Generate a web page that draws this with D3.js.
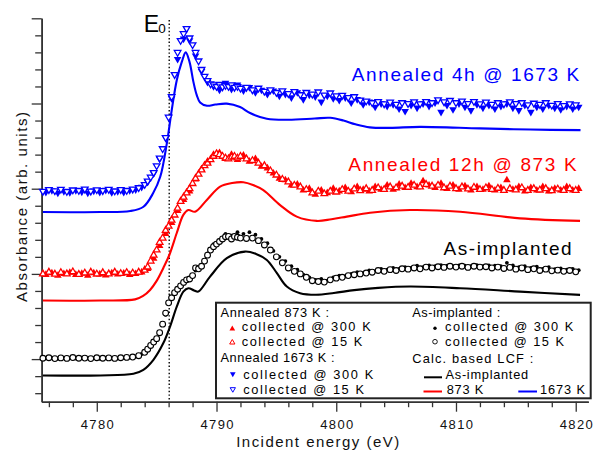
<!DOCTYPE html>
<html><head><meta charset="utf-8">
<script src="https://cdn.jsdelivr.net/npm/d3@7"></script>
<style>
html,body{margin:0;padding:0;background:#fff;}
svg{display:block;font-family:"Liberation Sans",Arial,Helvetica,sans-serif;}
</style></head><body>
<svg id="chart" width="594" height="450"></svg>
<script>
// ---------------- DATA ----------------
const xMajorTicks = [4780, 4790, 4800, 4810, 4820];
const xMinorTicks = [4776, 4778, 4782, 4784, 4786, 4788, 4792, 4794, 4796, 4798, 4802, 4804, 4806, 4808, 4812, 4814, 4816, 4818];
const yMajorTicks = [0, 0.5, 1.0, 1.5, 2.0];
const yMinorTicks = [-0.2, -0.1, 0.1, 0.2, 0.3, 0.4, 0.6, 0.7, 0.8, 0.9, 1.1, 1.2, 1.3, 1.4, 1.6, 1.7, 1.8, 1.9];
const E0 = 4786.05;

// energy grid of the 15 K scans (eV)
const energy15 = [
  4775.5,4776,4776.5,4777,4777.5,4778,4778.5,4779,4779.5,4780,4780.5,4781,4781.5,4782,4782.5,4783,
  4783.5,4784,
  4784.25,4784.5,4784.75,4785,4785.25,4785.5,4785.75,4786,
  4786.25,4786.5,4786.75,4787,4787.25,4787.5,4787.75,4788,
  4788.25,4788.5,4788.75,4789,4789.25,4789.5,4789.75,4790,
  4790.25,4790.5,4790.75,4791,4791.25,4791.5,4791.75,4792,
  4792.5,4793,4793.5,4794,4794.5,4795,4795.5,4796,
  4796.5,4797,4797.5,4798,4798.5,4799,4799.5,4800,
  4800.5,4801,4801.5,4802,4802.5,4803,4803.5,4804,
  4804.5,4805,4805.5,4806,4806.5,4807,4807.5,4808,
  4808.5,4809,4809.5,4810,4810.5,4811,4811.5,4812,
  4812.5,4813,4813.5,4814,4814.5,4815,4815.5,4816,
  4816.5,4817,4817.5,4818,4818.5,4819,4819.5,4820
];
// energy grid of the 300 K scans (eV)
const energy300 = [
  4775.75,4776.25,4776.75,4777.25,4777.75,4778.25,4778.75,4779.25,4779.75,4780.25,4780.75,4781.25,4781.75,4782.25,4782.75,4783.25,
  4783.75,4784.25,4784.75,4785.25,4785.75,4786.25,4786.75,4787.25,
  4787.75,4788.25,4788.75,4789.25,4789.75,4790.25,4790.75,4791.25,
  4791.75,4792.25,4792.75,4793.25,4793.75,4794.25,4794.75,4795.25,
  4795.75,4796.25,4796.75,4797.25,4797.75,4798.25,4798.75,4799.25,
  4799.75,4800.25,4800.75,4801.25,4801.75,4802.25,4802.75,4803.25,
  4803.75,4804.25,4804.75,4805.25,4805.75,4806.25,4806.75,4807.25,
  4807.75,4808.25,4808.75,4809.25,4809.75,4810.25,4810.75,4811.25,
  4811.75,4812.25,4812.75,4813.25,4813.75,4814.25,4814.75,4815.25,
  4815.75,4816.25,4816.75,4817.25,4817.75,4818.25,4818.75,4819.25,
  4819.75,4820.25
];

// Annealed 4h @ 1673 K (offset spectra)
const blue15 = [
  0.985,0.995,0.988,0.997,0.984,0.993,0.990,0.998,0.986,0.994,0.989,0.996,0.987,0.995,0.990,0.998,
  1.006,1.025,
  1.045,1.068,1.095,1.135,1.180,1.235,1.300,1.420,
  1.540,1.670,1.800,1.870,1.910,1.940,1.885,1.845,
  1.800,1.750,1.700,1.660,1.635,1.615,1.610,1.600,
  1.612,1.598,1.606,1.600,1.610,1.595,1.600,1.590,
  1.595,1.580,1.590,1.572,1.580,1.565,1.575,1.558,
  1.570,1.552,1.565,1.555,1.568,1.550,1.562,1.545,
  1.548,1.535,1.540,1.520,1.515,1.505,1.512,1.498,
  1.508,1.495,1.505,1.500,1.510,1.498,1.512,1.505,
  1.522,1.510,1.518,1.505,1.515,1.500,1.512,1.498,
  1.508,1.495,1.505,1.498,1.510,1.500,1.505,1.492,
  1.502,1.495,1.505,1.490,1.500,1.488,1.498,1.492
];
const blue300 = [
  0.980,0.990,0.975,0.985,0.978,0.990,0.982,0.975,0.988,0.980,0.992,0.978,0.985,0.980,0.990,0.995,
  1.010,1.040,1.090,1.175,1.300,1.530,1.760,1.880,
  1.870,1.780,1.690,1.625,1.600,1.580,1.620,1.585,
  1.610,1.575,1.595,1.565,1.580,1.555,1.575,1.545,
  1.555,1.535,1.565,1.525,1.550,1.540,1.510,1.545,
  1.530,1.520,1.535,1.505,1.525,1.495,1.510,1.480,
  1.500,1.485,1.495,1.470,1.455,1.490,1.475,1.500,
  1.485,1.505,1.450,1.490,1.465,1.500,1.480,1.460,
  1.495,1.475,1.490,1.470,1.485,1.500,1.475,1.460,
  1.490,1.450,1.480,1.470,1.490,1.475,1.465,1.485,
  1.470,1.480
];
// Annealed 12h @ 873 K
const red15 = [
  0.500,0.510,0.498,0.508,0.500,0.512,0.497,0.505,0.510,0.499,0.507,0.500,0.510,0.502,0.508,0.505,
  0.510,0.522,
  0.540,0.575,0.610,0.640,0.685,0.710,0.755,0.780,
  0.815,0.845,0.885,0.925,0.950,0.975,1.000,1.030,
  1.060,1.085,1.110,1.135,1.150,1.170,1.190,1.205,
  1.200,1.190,1.180,1.175,1.185,1.190,1.180,1.190,
  1.175,1.165,1.150,1.135,1.105,1.080,1.055,1.040,
  1.020,1.010,0.995,0.975,0.985,0.970,0.985,0.980,
  0.995,0.985,0.998,0.988,1.000,0.990,1.005,0.995,
  1.010,1.005,1.015,1.008,1.020,1.010,1.025,1.015,
  1.020,1.005,1.015,1.000,1.010,0.998,1.008,0.995,
  1.005,0.995,1.002,0.990,1.000,0.993,1.005,0.990,
  1.000,0.992,1.000,0.988,0.998,0.990,1.000,0.990
];
const red300 = [
  0.495,0.505,0.490,0.500,0.508,0.495,0.502,0.490,0.505,0.498,0.492,0.505,0.497,0.503,0.495,0.500,
  0.510,0.530,0.590,0.665,0.735,0.800,0.870,0.935,
  0.985,1.055,1.115,1.160,1.200,1.210,1.175,1.200,
  1.170,1.195,1.160,1.175,1.130,1.120,1.090,1.060,
  1.050,1.020,1.025,0.990,1.000,0.965,0.990,0.975,
  1.000,0.985,1.005,0.980,1.010,0.995,0.985,1.010,
  0.995,1.020,0.995,1.025,1.005,1.030,1.010,1.045,
  1.020,1.005,1.030,1.000,1.020,0.995,1.015,0.990,
  1.010,0.995,1.015,0.990,1.005,1.050,0.995,1.010,
  0.985,1.005,0.990,1.010,0.985,1.000,0.990,1.010,
  0.990,1.000
];
// As-implanted
const black15 = [
  0.005,0.008,0.003,0.007,0.004,0.009,0.005,0.006,0.003,0.008,0.005,0.007,0.004,0.008,0.010,0.012,
  0.020,0.040,
  0.058,0.080,0.100,0.120,0.155,0.205,0.270,0.330,
  0.360,0.390,0.410,0.430,0.450,0.465,0.470,0.490,
  0.535,0.530,0.545,0.575,0.610,0.640,0.660,0.675,
  0.690,0.705,0.718,0.720,0.705,0.720,0.715,0.710,
  0.708,0.710,0.695,0.670,0.640,0.600,0.565,0.535,
  0.515,0.500,0.480,0.460,0.455,0.452,0.465,0.475,
  0.480,0.490,0.495,0.500,0.505,0.510,0.520,0.515,
  0.525,0.520,0.530,0.528,0.535,0.530,0.540,0.535,
  0.542,0.538,0.545,0.540,0.545,0.538,0.545,0.540,
  0.542,0.535,0.540,0.532,0.538,0.528,0.535,0.525,
  0.530,0.520,0.528,0.518,0.522,0.515,0.520,0.512
];
const black300 = [
  0.004,0.006,0.002,0.007,0.005,0.003,0.008,0.004,0.006,0.002,0.007,0.005,0.004,0.008,0.009,0.014,
  0.030,0.060,0.100,0.160,0.260,0.355,0.405,0.445,
  0.475,0.520,0.550,0.620,0.675,0.700,0.735,0.725,
  0.745,0.735,0.745,0.730,0.705,0.680,0.635,0.600,
  0.575,0.545,0.525,0.495,0.480,0.465,0.470,0.460,
  0.480,0.490,0.485,0.500,0.510,0.505,0.520,0.515,
  0.530,0.525,0.535,0.530,0.540,0.535,0.548,0.540,
  0.550,0.545,0.552,0.548,0.545,0.550,0.548,0.545,
  0.552,0.545,0.550,0.548,0.545,0.565,0.550,0.540,
  0.545,0.535,0.542,0.530,0.540,0.528,0.532,0.525,
  0.530,0.522
];

// Calculated spectra based on LCF  [energy, absorbance]
const lcfBlue = [[4775.5,0.863],[4780.3,0.863],[4782.8,0.869],[4783.9,0.894],[4784.7,0.973],[4785.3,1.070],[4785.85,1.266],[4786.26,1.461],[4786.68,1.637],[4787.1,1.744],[4787.43,1.800],[4787.75,1.743],[4788.07,1.627],[4788.35,1.549],[4788.63,1.506],[4789.2,1.487],[4789.9,1.494],[4790.86,1.499],[4791.97,1.479],[4792.8,1.444],[4794.2,1.411],[4796.0,1.405],[4798.2,1.412],[4799.5,1.416],[4800.6,1.400],[4801.6,1.378],[4802.8,1.360],[4804.5,1.357],[4807.0,1.363],[4812.0,1.354],[4816.2,1.347],[4820.4,1.344]];
const lcfRed = [[4775.5,0.3435],[4780.3,0.3435],[4783.2,0.3505],[4783.87,0.371],[4784.45,0.406],[4785.0,0.459],[4785.56,0.535],[4786.06,0.611],[4786.68,0.740],[4787.23,0.846],[4787.65,0.875],[4788.21,0.865],[4789.19,0.934],[4790.3,1.012],[4791.3,1.033],[4792.24,1.038],[4793.05,1.022],[4793.91,0.992],[4795.31,0.904],[4796.7,0.836],[4798.37,0.811],[4799.6,0.821],[4800.88,0.836],[4802.82,0.859],[4806.16,0.875],[4810.34,0.865],[4815.35,0.826],[4820.36,0.811]];
const lcfBlack = [[4775.5,-0.096],[4780.3,-0.096],[4783.06,-0.086],[4783.89,-0.063],[4784.73,-0.004],[4785.56,0.094],[4786.12,0.191],[4786.68,0.308],[4787.23,0.396],[4787.65,0.416],[4788.13,0.403],[4788.48,0.396],[4789.46,0.484],[4790.86,0.592],[4792.38,0.631],[4793.3,0.617],[4794.2,0.582],[4795.03,0.506],[4795.87,0.426],[4796.98,0.387],[4798.3,0.378],[4799.8,0.388],[4801.5,0.405],[4803.5,0.418],[4806.16,0.426],[4810.34,0.416],[4815.35,0.396],[4820.36,0.377]];

// ---------------- DRAWING ----------------
const BLUE = "#0000ff", RED = "#ff0000", BLACK = "#000000", AXIS = "#333333";
const svg = d3.select("#chart");
const x = d3.scaleLinear().domain([4775.4, 4821.05]).range([41.7, 588.3]);
const y = d3.scaleLinear().domain([-0.25, 2.0]).range([401.7, 18.3]);

function styleAxis(g) {
  g.select(".domain").attr("stroke", AXIS).attr("stroke-width", 1.6);
  g.selectAll(".tick line").attr("stroke", AXIS).attr("stroke-width", 1.3);
}
// x axis
const gxMinor = svg.append("g").attr("transform", "translate(0,401.7)")
  .call(d3.axisBottom(x).tickValues(xMinorTicks).tickSize(5.5).tickSizeOuter(0).tickFormat(""));
styleAxis(gxMinor);
const gx = svg.append("g").attr("transform", "translate(0,401.7)")
  .call(d3.axisBottom(x).tickValues(xMajorTicks).tickSize(10).tickSizeOuter(0).tickPadding(8.5).tickFormat(d3.format("d")));
styleAxis(gx);
gx.selectAll(".tick text").attr("font-size", 13).attr("fill", "#111")
  .attr("font-family", '"Liberation Sans",Arial,sans-serif')
  .attr("textLength", 33).attr("lengthAdjust", "spacing");
// y axis
const gyMinor = svg.append("g").attr("transform", "translate(41.7,0)")
  .call(d3.axisLeft(y).tickValues(yMinorTicks).tickSize(6.5).tickSizeOuter(0).tickFormat(""));
styleAxis(gyMinor);
const gy = svg.append("g").attr("transform", "translate(41.7,0)")
  .call(d3.axisLeft(y).tickValues(yMajorTicks).tickSize(10).tickSizeOuter(0).tickFormat(""));
styleAxis(gy);

// axis titles
svg.append("text").attr("x", 317.7).attr("y", 446.7).attr("text-anchor", "middle")
  .attr("font-size", 15).attr("fill", "#111").attr("textLength", 163).attr("lengthAdjust", "spacing")
  .text("Incident energy (eV)");
svg.append("text").attr("transform", "translate(26.7,207) rotate(-90)").attr("text-anchor", "middle")
  .attr("font-size", 15).attr("fill", "#111").attr("textLength", 190).attr("lengthAdjust", "spacing")
  .text("Absorbance (arb. units)");

// E0 marker
svg.append("line").attr("x1", x(E0)).attr("x2", x(E0)).attr("y1", 20).attr("y2", 401)
  .attr("stroke", "#000").attr("stroke-width", 1.4).attr("stroke-dasharray", "1.4,2.2");
svg.append("text").attr("x", 143.8).attr("y", 31.7).attr("font-size", 23).attr("fill", "#000").text("E");
svg.append("text").attr("x", 158.3).attr("y", 32.8).attr("font-size", 13.5).attr("fill", "#000").text("0");

// LCF lines
const line = d3.line().x(d => x(d[0])).y(d => y(d[1])).curve(d3.curveCatmullRom.alpha(0.5));
[[lcfBlue, BLUE], [lcfRed, RED], [lcfBlack, BLACK]].forEach(([d, c]) => {
  svg.append("path").datum(d).attr("d", line).attr("fill", "none")
    .attr("stroke", c).attr("stroke-width", 2.1).attr("stroke-linejoin", "round");
});

// markers
const triFilled = d3.symbol().type(d3.symbolTriangle).size(25);
const triOpen = d3.symbol().type(d3.symbolTriangle).size(19);
function drawTriangles(energies, values, color, filled, down) {
  const pts = d3.zip(energies, values);
  svg.append("g").selectAll("path").data(pts).join("path")
    .attr("d", filled ? triFilled : triOpen)
    .attr("transform", d => `translate(${x(d[0])},${y(d[1])})${down ? " rotate(180)" : ""}`)
    .attr("fill", filled ? color : "#fff")
    .attr("stroke", filled ? "none" : color)
    .attr("stroke-width", 1.3);
}
function drawCircles(energies, values, filled) {
  const pts = d3.zip(energies, values);
  svg.append("g").selectAll("circle").data(pts).join("circle")
    .attr("cx", d => x(d[0])).attr("cy", d => y(d[1]))
    .attr("r", filled ? 1.9 : 2.9)
    .attr("fill", filled ? "#000" : "#fff")
    .attr("stroke", filled ? "none" : "#000").attr("stroke-width", 1.1);
}
drawTriangles(energy300, blue300, BLUE, true, true);
drawTriangles(energy15, blue15, BLUE, false, true);
drawTriangles(energy300, red300, RED, true, false);
drawTriangles(energy15, red15, RED, false, false);
drawCircles(energy300, black300, true);
drawCircles(energy15, black15, false);

// series labels
function label(t, xEnd, yb, w, c, fs) {
  svg.append("text").attr("x", xEnd).attr("y", yb).attr("text-anchor", "end")
    .attr("font-size", fs).attr("fill", c).attr("textLength", w).attr("lengthAdjust", "spacing").text(t);
}
label("Annealed 4h @ 1673 K", 579.3, 81, 227.6, BLUE, 19);
label("Annealed 12h @ 873 K", 576.7, 171, 228.4, RED, 19);
label("As-implanted", 571.7, 255, 128.3, BLACK, 19);

// legend
const lg = svg.append("g");
lg.append("rect").attr("x", 216).attr("y", 302.7).attr("width", 374.7).attr("height", 95.6)
  .attr("fill", "#fff").attr("stroke", "#222").attr("stroke-width", 2);
function ltext(t, x0, yb, w) {
  lg.append("text").attr("x", x0).attr("y", yb).attr("font-size", 12.8).attr("fill", "#000")
    .attr("textLength", w).attr("lengthAdjust", "spacing").text(t);
}
const legTriF = d3.symbol().type(d3.symbolTriangle).size(14);
const legTriO = d3.symbol().type(d3.symbolTriangle).size(12);
function ltri(cx, cy, color, filled, down) {
  lg.append("path").attr("d", filled ? legTriF : legTriO)
    .attr("transform", `translate(${cx},${cy})${down ? " rotate(180)" : ""}`)
    .attr("fill", filled ? color : "#fff").attr("stroke", filled ? "none" : color).attr("stroke-width", 1);
}
ltext("Annealed 873 K :", 220.5, 317.3, 108.6);
ltri(232.3, 328.8, RED, true, false); ltext("collected @ 300 K", 241.7, 331.4, 129);
ltri(232.3, 342.5, RED, false, false); ltext("collected @ 15 K", 241.7, 346, 120.6);
ltext("Annealed 1673 K :", 220.5, 362, 114);
ltri(232.8, 374, BLUE, true, true); ltext("collected @ 300 K", 243.3, 378.7, 130);
ltri(232.8, 389.2, BLUE, false, true); ltext("collected @ 15 K", 243.3, 393.6, 120.7);

ltext("As-implanted :", 412.3, 317.3, 88);
lg.append("circle").attr("cx", 435).attr("cy", 328.3).attr("r", 1.7).attr("fill", "#000");
ltext("collected @ 300 K", 445, 331.2, 128.3);
lg.append("circle").attr("cx", 435).attr("cy", 341.7).attr("r", 2.3).attr("fill", "#fff").attr("stroke", "#000").attr("stroke-width", 0.9);
ltext("collected @ 15 K", 445, 345.8, 119);
ltext("Calc. based LCF :", 412.3, 363.3, 121);
function lline(x1, x2, yy, c) {
  lg.append("line").attr("x1", x1).attr("x2", x2).attr("y1", yy).attr("y2", yy).attr("stroke", c).attr("stroke-width", 2);
}
lline(424, 442, 377.3, BLACK); ltext("As-implanted", 445.5, 378.8, 82.6);
lline(423.5, 442, 391.5, RED); ltext("873 K", 446.7, 393.6, 36.6);
lline(518.3, 537, 391.5, BLUE); ltext("1673 K", 540, 393.6, 45);
</script>
</body></html>
